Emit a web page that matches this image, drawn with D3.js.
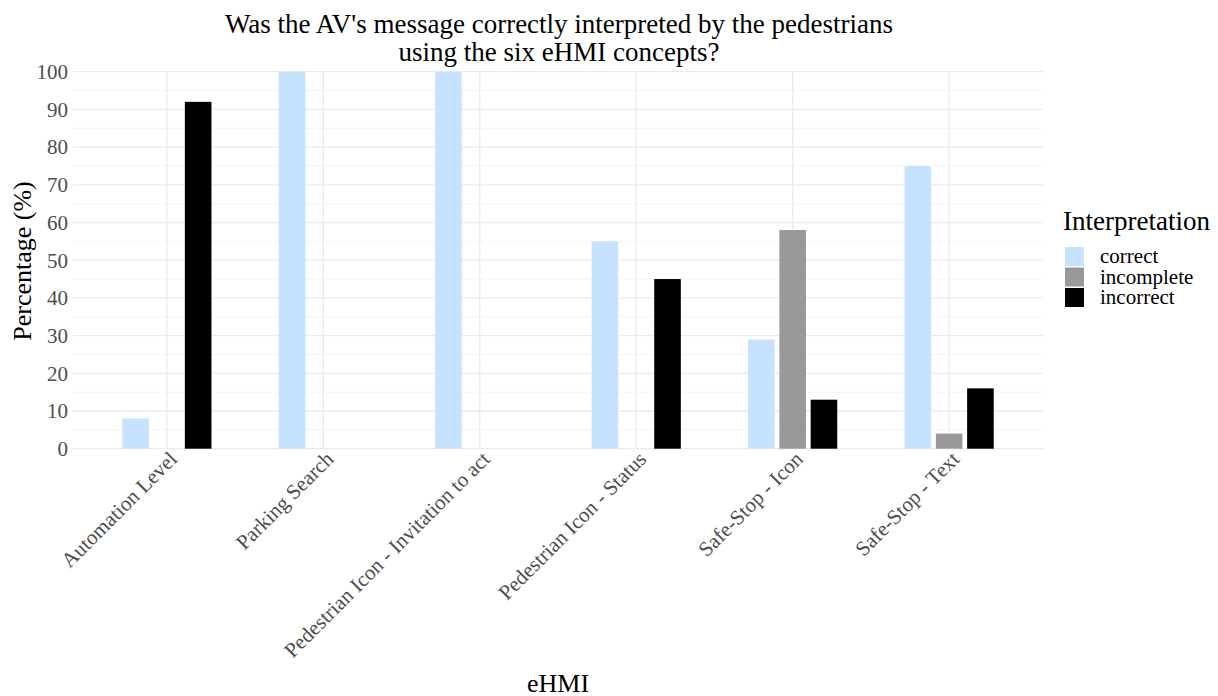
<!DOCTYPE html>
<html><head><meta charset="utf-8">
<script src="https://cdn.jsdelivr.net/npm/d3@7"></script>
<style>body{margin:0;background:#fff;}text{font-family:"Liberation Serif","Times New Roman",serif;}</style>
</head><body>
<svg id="c" width="1218" height="696"></svg>
<script>
const categories = ["Automation Level","Parking Search","Pedestrian Icon - Invitation to act","Pedestrian Icon - Status","Safe-Stop - Icon","Safe-Stop - Text"];
const interpretations = ["correct","incomplete","incorrect"];
const correct    = [8, 100, 100, 55, 29, 75];
const incomplete = [0, 0, 0, 0, 58, 4];
const incorrect  = [92, 0, 0, 45, 13, 16];
const yTicks = [0,10,20,30,40,50,60,70,80,90,100];
const colors = ["#C6E2FF","#999999","#000000"];

const series = [correct, incomplete, incorrect];
const svg = d3.select("#c");
const L = 73, R = 1043, T = 71.7, B = 448.7;

const x = d3.scalePoint().domain(categories).range([L, R]).padding(0.6);
const step = x.step();
const y = d3.scaleLinear().domain([0,100]).range([B, T]);

// minor gridlines
const minor = d3.range(5, 100, 10);
svg.append("g").selectAll("line").data(minor).join("line")
  .attr("x1", L).attr("x2", R).attr("y1", d=>y(d)).attr("y2", d=>y(d))
  .attr("stroke", "#F4F4F4").attr("stroke-width", 1);
// major
svg.append("g").selectAll("line").data(yTicks).join("line")
  .attr("x1", L).attr("x2", R).attr("y1", d=>y(d)).attr("y2", d=>y(d))
  .attr("stroke", "#EBEBEB").attr("stroke-width", 1.3);
svg.append("g").selectAll("line").data(categories).join("line")
  .attr("x1", d=>x(d)).attr("x2", d=>x(d)).attr("y1", T).attr("y2", B)
  .attr("stroke", "#EBEBEB").attr("stroke-width", 1.3);

// bars
const barW = step*0.17, off = step*0.2;
const data = [];
categories.forEach((c,i)=>series.forEach((s,j)=>{ if (s[i]>0) data.push({c, j, v:s[i]}); }));
svg.append("g").selectAll("rect").data(data).join("rect")
  .attr("x", d=>x(d.c) + (d.j-1)*off - barW/2)
  .attr("width", barW)
  .attr("y", d=>y(d.v)).attr("height", d=>B - y(d.v))
  .attr("fill", d=>colors[d.j]);

// y axis labels
svg.append("g").selectAll("text").data(yTicks).join("text")
  .attr("x", L-5).attr("y", d=>y(d)).attr("dy","0.35em")
  .attr("text-anchor","end").attr("font-size", 21).attr("fill","#4D4D4D")
  .text(d=>d);

// x axis labels
svg.append("g").selectAll("text").data(categories).join("text")
  .attr("transform", d=>`translate(${x(d)+1},${450}) rotate(-45)`)
  .attr("text-anchor","end").attr("dy","0.7em").attr("font-size", 21).attr("fill","#4D4D4D")
  .text(d=>d);

// titles
svg.append("text").attr("x", 559).attr("y", 33).attr("text-anchor","middle").attr("font-size", 27).attr("fill","#000")
  .text("Was the AV's message correctly interpreted by the pedestrians");
svg.append("text").attr("x", 559).attr("y", 61).attr("text-anchor","middle").attr("font-size", 27).attr("fill","#000")
  .text("using the six eHMI concepts?");
svg.append("text").attr("x", 558).attr("y", 692).attr("text-anchor","middle").attr("font-size", 26).text("eHMI");
svg.append("text").attr("transform","translate(31,261) rotate(-90)").attr("text-anchor","middle").attr("font-size", 26).text("Percentage (%)");

// legend
svg.append("text").attr("x", 1063).attr("y", 230).attr("font-size", 27).text("Interpretation");
const lg = svg.append("g").selectAll("g").data(interpretations).join("g")
  .attr("transform",(d,i)=>`translate(1065,${247+i*20.5})`);
lg.append("rect").attr("width",19).attr("height",19).attr("fill",(d,i)=>colors[i]);
lg.append("text").attr("x",35).attr("y",9).attr("dy","0.35em").attr("font-size",21).attr("fill","#000").text(d=>d);
</script>
</body></html>
